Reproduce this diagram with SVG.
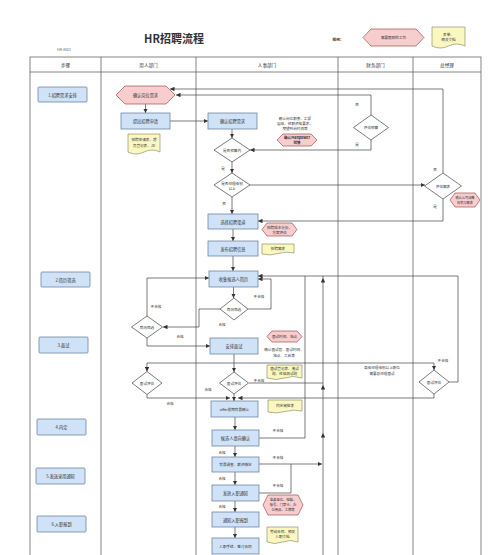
<svg xmlns="http://www.w3.org/2000/svg" width="500" height="555" viewBox="0 0 500 555">
<defs>
<marker id="ah" viewBox="0 0 6 6" refX="6" refY="3" markerWidth="4.5" markerHeight="4.5" orient="auto" markerUnits="userSpaceOnUse"><path d="M0,0 L6,3 L0,6 Z" fill="#333"/></marker>
</defs>
<style>
text{font-family:"Noto Sans CJK SC","Noto Sans",sans-serif;fill:#333;text-anchor:middle;dominant-baseline:central}
.t{font-size:4.2px}
.s{font-size:3.6px}
.h{font-size:4.6px}
.box{fill:#cfe2f7;stroke:#6f86a0;stroke-width:0.8}
.hex{fill:#f8cdcd;stroke:#a05050;stroke-width:0.7}
.doc{fill:#fbf7c0;stroke:#7f7f5f;stroke-width:0.6}
.dia{fill:#fff;stroke:#444;stroke-width:0.7}
.grid{fill:none;stroke:#666;stroke-width:0.8}
.c{fill:none;stroke:#444;stroke-width:0.7}
.a{marker-end:url(#ah)}
</style>
<rect width="500" height="555" fill="#fff"/>
<g id="header">
<text x="174" y="38" style="font-size:11px;font-weight:bold">HR招聘流程</text>
<text x="64" y="49" class="s" style="fill:#666">HR-A001</text>
<text x="338" y="39" class="s" style="font-weight:bold">图例：</text>
<polygon class="hex" points="363,37.5 371,29 416,29 424,37.5 416,46 371,46"/>
<text x="393.5" y="37.5" class="s">需要跟踪的工作</text>
<path class="doc" d="M432,27 H465 V46 Q456.75,42 448.5,46 T432,46 Z" transform="translate(0,0)"/>
<text x="448.5" y="34" class="s">表单、</text>
<text x="448.5" y="39" class="s">相关文档</text>
</g>
<g id="table">
<rect class="grid" x="30" y="57" width="451" height="520"/>
<line class="grid" x1="30" y1="72" x2="481" y2="72"/>
<line class="grid" x1="101" y1="57" x2="101" y2="555"/>
<line class="grid" x1="196" y1="57" x2="196" y2="555"/>
<line class="grid" x1="338" y1="57" x2="338" y2="555"/>
<line class="grid" x1="413" y1="57" x2="413" y2="555"/>
<text x="65.5" y="65" class="h">步骤</text>
<text x="148.5" y="65" class="h">用人部门</text>
<text x="267" y="65" class="h">人事部门</text>
<text x="375.5" y="65" class="h">财务部门</text>
<text x="447" y="65" class="h">总经理</text>
</g>
<g id="connectors">
<path class="c a" d="M371,115 V95 H176"/>
<path class="c a" d="M443,173 V89 H170"/>
<path class="c a" d="M145.5,104 V113"/>
<path class="c a" d="M170,121 H208"/>
<path class="c a" d="M232,129 V138"/>
<path class="c a" d="M371,140 V150 H250"/>
<path class="c a" d="M232,162 V173"/>
<path class="c a" d="M250,185 H425"/>
<path class="c a" d="M443,199 V221 H258"/>
<path class="c a" d="M232,197 V214"/>
<path class="c a" d="M233,229 V241"/>
<path class="c a" d="M233,256 V271"/>
<path class="c a" d="M233.5,287 V298"/>
<path class="c a" d="M248,309 H271 V279 H258"/>
<path class="c a" d="M220,309 H199 V327 H163"/>
<path class="c a" d="M147,316 V278 H209"/>
<path class="c a" d="M147,338 V346 H210"/>
<path class="c a" d="M234,354 V372"/>
<path class="c a" d="M234,363 H147 V371.5"/>
<path class="c a" d="M234,363 H434 V370"/>
<path class="c" d="M249,383 H323"/>
<path class="c a" d="M458,276 H258"/>
<path class="c" d="M449,382 H458 V276"/>
<path class="c" d="M259,438 H305 V276"/>
<path class="c" d="M323,555 V464"/>
<path class="c a" d="M323,464 V433"/>
<path class="c a" d="M323,433 V385"/>
<path class="c a" d="M323,385 V278"/>
<path class="c" d="M323,278 V276"/>
<path class="c a" d="M259,464 H322"/>
<path class="c" d="M259,493 H291 V464"/>
<path class="c a" d="M147,394.5 V398 H230"/>
<path class="c a" d="M434,394 V398 H238"/>
<path class="c a" d="M234,394 V401"/>
<path class="c a" d="M235,417 V430"/>
<path class="c a" d="M235,446 V457"/>
<path class="c a" d="M235,472 V485"/>
<path class="c a" d="M235,501 V512"/>
<path class="c a" d="M235,527 V538"/>
</g>
<g id="labels">
<text x="223" y="168" class="s">是</text>
<text x="224" y="203" class="s">否</text>
<text x="357" y="104" class="s">否</text>
<text x="357" y="144" class="s">是</text>
<text x="435" y="169" class="s">否</text>
<text x="435" y="206" class="s">是</text>
<text x="259" y="296" class="s">不合格</text>
<text x="222" y="324" class="s">合格</text>
<text x="156" y="306" class="s">不合格</text>
<text x="180" y="336" class="s">合格</text>
<text x="259" y="380" class="s">不合格</text>
<text x="208" y="389" class="s">合格</text>
<text x="170" y="403" class="s">合格</text>
<text x="443" y="360" class="s">不合格</text>
<text x="382" y="367" class="s">高级经理级别以上职位</text>
<text x="382" y="373" class="s">需要总经理面试</text>
<text x="278" y="430" class="s">不合格</text>
<text x="222" y="452" class="s">合格</text>
<text x="278" y="457" class="s">不合格</text>
<text x="222" y="478" class="s">合格</text>
<text x="278" y="485" class="s">不合格</text>
<text x="222" y="506" class="s">合格</text>
<text x="295" y="118" class="s">确认岗位职责、汇报</text>
<text x="295" y="123" class="s">层级、任职资格要求、</text>
<text x="295" y="128" class="s">期望到岗时间等</text>
<text x="284" y="349" class="s">确认面试官、面试时间、</text>
<text x="284" y="355" class="s">地点、工具等</text>
</g>
<g id="s1"><rect class="box" x="38" y="87" width="49" height="15" rx="1"/><text x="62.5" y="94.5" class="t">1.招聘需求安排</text></g>
<g id="s2"><rect class="box" x="41" y="272" width="49" height="15" rx="1"/><text x="65.5" y="279.5" class="t">2.简历筛选</text></g>
<g id="s3"><rect class="box" x="39" y="337" width="49" height="16" rx="1"/><text x="63.5" y="345" class="t">3.面试</text></g>
<g id="s4"><rect class="box" x="37" y="419" width="49" height="16" rx="1"/><text x="61.5" y="427" class="t">4.内定</text></g>
<g id="s5"><rect class="box" x="36" y="468" width="49" height="16" rx="1"/><text x="60.5" y="476" class="t">5.发送录用通知</text></g>
<g id="s6"><rect class="box" x="37" y="516" width="49" height="16" rx="1"/><text x="61.5" y="524" class="t">6.入职报到</text></g>
<g id="n_need"><polygon class="hex" points="116,95 125,86 166,86 175,95 166,104 125,104"/><text x="145.5" y="95" class="t">确认岗位需求</text></g>
<g id="n_apply"><rect class="box" x="121" y="113" width="49" height="16"/><text x="145.5" y="121" class="t">提出招聘申请</text></g>
<g id="d_apply"><path class="doc" d="M128,134 H160 V152 Q152,148 144,152 T128,152 Z"/><text x="144" y="139.5" class="s">招聘申请表、增</text><text x="144" y="145" class="s">员登记表、JD</text></g>
<g id="n_confirm"><rect class="box" x="208" y="113" width="49" height="16"/><text x="232.5" y="121" class="t">确认招聘需求</text></g>
<g id="h_budget"><polygon class="hex" points="277,140 283,134 311,134 317,140 311,146 283,146"/><text x="297" y="137.6" class="s" style="font-weight:bold">确认Manpower</text><text x="297" y="142.6" class="s" style="font-weight:bold">预算</text></g>
<g id="q_budget"><polygon class="dia" points="214,150 232,138 250,150 232,162"/><text x="232" y="150" class="s">是否预算内</text></g>
<g id="q_level"><polygon class="dia" points="214,185 232,173 250,185 232,197"/><text x="232" y="183" class="s">是否经理级别</text><text x="232" y="188" class="s">以上</text></g>
<g id="q_fin"><polygon class="dia" points="353.5,127.5 371,115 388.5,127.5 371,140"/><text x="371" y="127.5" class="s">评估预算</text></g>
<g id="q_gm"><polygon class="dia" points="424.5,186 443,173 461.5,186 443,199"/><text x="443" y="186" class="s">评估需求</text></g>
<g id="h_gm"><polygon class="hex" points="450,200 455,193 475,193 480,200 475,207 455,207"/><text x="465" y="197.7" class="s" style="font-size:3.2px">确认公司战略</text><text x="465" y="202.5" class="s" style="font-size:3.2px">规划与需求</text></g>
<g id="n_channel"><rect class="box" x="208" y="214" width="50" height="15"/><text x="233" y="221.5" class="t">选择招聘渠道</text></g>
<g id="h_cost"><polygon class="hex" points="262,229.5 267,223 292,223 297,229.5 292,236 267,236"/><text x="279.5" y="227" class="s">招聘成本分析、</text><text x="279.5" y="232" class="s">方案评估</text></g>
<g id="n_publish"><rect class="box" x="208" y="241" width="50" height="15"/><text x="233" y="248.5" class="t">发布招聘信息</text></g>
<g id="d_need"><path class="doc" d="M262,244 H294 V253 Q286,251 278,253.5 T262,254 Z"/><text x="278" y="248.5" class="s">招聘需求</text></g>
<g id="n_collect"><rect class="box" x="209" y="271" width="49" height="16"/><text x="233.5" y="279" class="t">收集候选人简历</text></g>
<g id="q_cv_hr"><polygon class="dia" points="220,309 234,298 248,309 234,320"/><text x="234" y="309" class="s">简历筛选</text></g>
<g id="q_cv_dept"><polygon class="dia" points="131.5,327 147,316 162.5,327 147,338"/><text x="147" y="327" class="s">简历筛选</text></g>
<g id="n_interview"><rect class="box" x="210" y="338" width="48" height="16"/><text x="234" y="346" class="t">安排面试</text></g>
<g id="h_time"><polygon class="hex" points="267,336.5 272,331 297,331 302,336.5 297,342 272,342"/><text x="284.5" y="336.5" class="s">面试时间、地点</text></g>
<g id="d_form"><path class="doc" d="M267,365 H302 V378 Q293,375 284.5,378 T267,378 Z"/><text x="284.5" y="368.8" class="s">面试登记表、笔试</text><text x="284.5" y="373.8" class="s">题、性格测试题</text></g>
<g id="q_int_dept"><polygon class="dia" points="132,383 147,371.5 162,383 147,394.5"/><text x="147" y="383" class="s">面试评估</text></g>
<g id="q_int_hr"><polygon class="dia" points="219.5,383 234,372 248.5,383 234,394"/><text x="234" y="383" class="s">面试评估</text></g>
<g id="q_int_gm"><polygon class="dia" points="419,382 434,370 449,382 434,394"/><text x="434" y="382" class="s">面试评估</text></g>
<g id="n_offer"><rect class="box" x="211" y="401" width="47" height="16"/><text x="234.5" y="409" class="s">offer前期背景确认</text></g>
<g id="d_offer"><path class="doc" d="M268,400 H302 V411 Q293.5,409 285,411.5 T268,412 Z"/><text x="285" y="405.5" class="s">内定审批表</text></g>
<g id="n_intent"><rect class="box" x="212" y="430" width="47" height="16"/><text x="235.5" y="438" class="t">候选人意向确认</text></g>
<g id="n_bg"><rect class="box" x="212" y="457" width="47" height="15"/><text x="235.5" y="464.5" class="s">背景调查、薪资核定</text></g>
<g id="n_notice"><rect class="box" x="212" y="485" width="47" height="16"/><text x="235.5" y="493" class="t">发放入职通知</text></g>
<g id="h_prepare"><polygon class="hex" points="263,505 268,495 298,495 303,505 298,515 268,515"/><text x="283" y="499.5" class="s" style="font-size:3.3px">准备座位、电脑、</text><text x="283" y="504.5" class="s" style="font-size:3.3px">账号、门禁卡、办</text><text x="283" y="509.5" class="s" style="font-size:3.3px">公用品、工牌等</text></g>
<g id="n_report"><rect class="box" x="212" y="512" width="47" height="15"/><text x="235.5" y="519.5" class="t">通知入职报到</text></g>
<g id="d_contract"><path class="doc" d="M267,527 H298 V542 Q290.25,539 282.5,542 T267,542 Z"/><text x="282.5" y="531.5" class="s">劳动合同、相关</text><text x="282.5" y="536.5" class="s">入职文档</text></g>
<g id="n_sign"><rect class="box" x="212" y="538" width="47" height="16"/><text x="235.5" y="546" class="s">入职手续、签订合同</text></g>
</svg>
